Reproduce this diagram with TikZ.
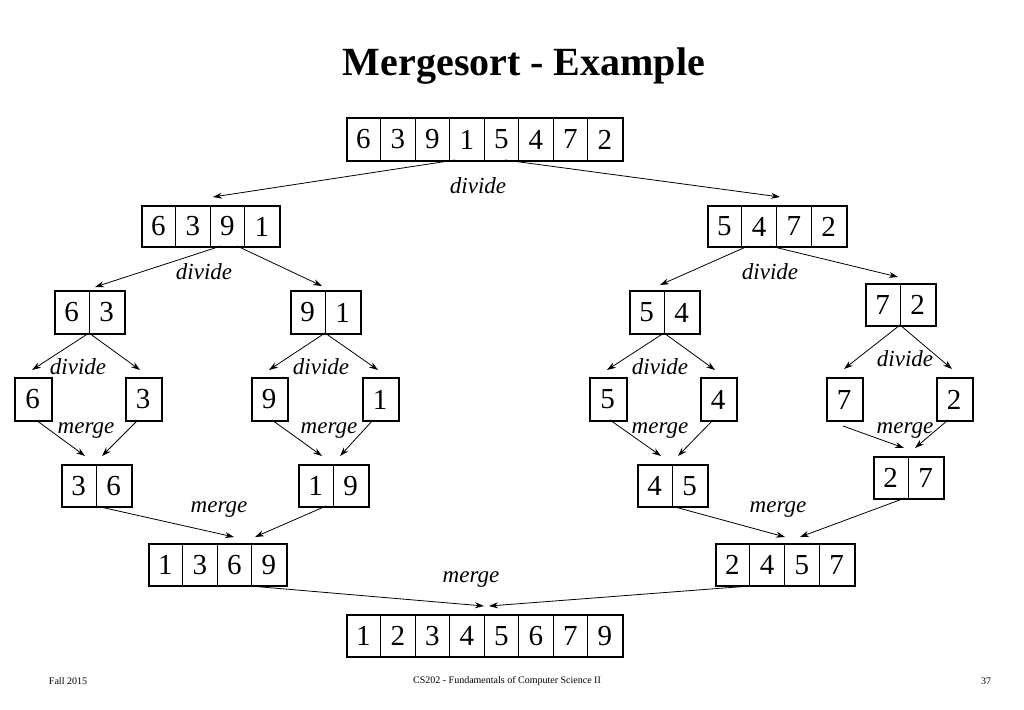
\documentclass[tikz,border=0pt]{standalone}
\usepackage{fontspec}
\setmainfont{Liberation Serif}
\usetikzlibrary{arrows.meta}
\tikzset{
  box/.style={draw, line width=2.2pt, inner sep=0pt, anchor=north west},
  digit/.style={font=\fontsize{29}{30}\selectfont, inner sep=0pt},
  lbl/.style={font=\fontsize{23}{24}\selectfont\itshape, inner sep=0pt},
  arr/.style={line width=0.8pt, -{Stealth[length=9pt,width=6pt]}},
  foot/.style={font=\fontsize{10}{11}\selectfont, inner sep=0pt}
}
% name, x1, y1, x2, y2, n, list
\newcommand\arr[7]{%
  \node[box, minimum width={(#4-#2)*1pt}, minimum height={(#5-#3)*1pt}] (#1) at (#2,#3) {};
  \pgfmathsetmacro\cw{(#4-#2)/#6}%
  \foreach \d [count=\i] in {#7} {
    \node[digit] (#1-\i) at ({#2+(\i-0.5)*\cw},{(#3+#5)/2+1}) {\d};
    \ifnum\i<#6 \draw[line width=0.8pt] ({#2+\i*\cw},#3) -- ({#2+\i*\cw},#5);\fi
  }}
\newcommand\con[6]{\draw[arr] ([xshift=#2pt,yshift={-(#3)*1pt}]#1.north west) -- ([xshift=#5pt,yshift={-(#6)*1pt}]#4.north west);}
\begin{document}
\begin{tikzpicture}[x=1pt,y=-1pt]
\useasboundingbox (0,0) rectangle (1024,709);
\node[font=\fontsize{40}{42}\selectfont\bfseries] (title) at (524,66) {Mergesort - Example};
\arr{A}{346}{117}{622}{160}{8}{6,3,9,1,5,4,7,2}
\arr{B}{141}{205}{279}{246}{4}{6,3,9,1}
\arr{C}{707}{205}{846}{246}{4}{5,4,7,2}
\arr{D}{54}{290}{124}{333}{2}{6,3}
\arr{E}{290}{290}{360}{333}{2}{9,1}
\arr{F}{629}{290}{699}{333}{2}{5,4}
\arr{G}{865}{283}{935}{325}{2}{7,2}
\arr{s6}{14}{377}{51}{420}{1}{6}
\arr{s3}{125}{377}{161}{420}{1}{3}
\arr{s9}{251}{377}{287}{420}{1}{9}
\arr{s1}{362}{377}{398}{420}{1}{1}
\arr{s5}{589}{377}{626}{420}{1}{5}
\arr{s4}{700}{377}{736}{420}{1}{4}
\arr{s7}{826}{377}{862}{420}{1}{7}
\arr{s2}{936}{377}{972}{420}{1}{2}
\arr{m36}{61}{464}{131}{506}{2}{3,6}
\arr{m19}{298}{464}{368}{506}{2}{1,9}
\arr{m45}{637}{464}{707}{506}{2}{4,5}
\arr{m27}{873}{456}{943}{498}{2}{2,7}
\arr{L}{148}{543}{286}{585}{4}{1,3,6,9}
\arr{R}{715}{543}{854}{585}{4}{2,4,5,7}
\arr{Z}{346}{614}{622}{656}{8}{1,2,3,4,5,6,7,9}
% divide
\con{A}{109}{43}{B}{72}{-8}
\con{A}{159}{43}{C}{73}{-8}
\con{B}{80}{41}{D}{41}{-3}
\con{B}{96}{41}{E}{32}{-4}
\con{C}{41}{41}{F}{31}{-5}
\con{C}{63}{41}{G}{33}{-6}
\con{D}{35}{43}{s6}{18}{-7}
\con{D}{35}{43}{s3}{15}{-7}
\con{E}{35}{43}{s9}{18}{-7}
\con{E}{35}{43}{s1}{16}{-7}
\con{F}{35}{43}{s5}{18}{-7}
\con{F}{35}{43}{s4}{15}{-7}
\con{G}{35}{42}{s7}{18}{-8}
\con{G}{35}{42}{s2}{16}{-8}
% merge
\con{s6}{22}{43}{m36}{24}{-8}
\con{s3}{13}{43}{m36}{41}{-8}
\con{s9}{21}{43}{m19}{24}{-8}
\con{s1}{11}{43}{m19}{42}{-8}
\con{s5}{21}{43}{m45}{24}{-8}
\con{s4}{13}{43}{m45}{41}{-8}
\con{s7}{17}{49}{m27}{31}{-8}
\con{s2}{12}{43}{m27}{42}{-8}
\con{m36}{35}{42}{L}{86}{-6}
\con{m19}{28}{42}{L}{107}{-6}
\con{m45}{38}{43}{R}{70}{-6}
\con{m27}{32}{42}{R}{85}{-6}
\con{L}{102}{43}{Z}{138}{-8}
\con{R}{35}{43}{Z}{143}{-8}
% labels
\node[lbl] (l1) at (478,186) {divide};
\node[lbl] (l2) at (204,272) {divide};
\node[lbl] (l3) at (770,272) {divide};
\node[lbl] (l4) at (78,367) {divide};
\node[lbl] (l5) at (321,367) {divide};
\node[lbl] (l6) at (660,367) {divide};
\node[lbl] (l7) at (905,359) {divide};
\node[lbl] (l8) at (86,431) {merge};
\node[lbl] (l9) at (329,431) {merge};
\node[lbl] (l10) at (660,431) {merge};
\node[lbl] (l11) at (905,431) {merge};
\node[lbl] (l12) at (219,510) {merge};
\node[lbl] (l13) at (778,510) {merge};
\node[lbl] (l14) at (471,580) {merge};
\node[foot] (f1) at (68,681) {Fall 2015};
\node[foot] (f2) at (507,681) {CS202 - Fundamentals of Computer Science II};
\node[foot] (f3) at (986,681) {37};
\end{tikzpicture}
\end{document}
